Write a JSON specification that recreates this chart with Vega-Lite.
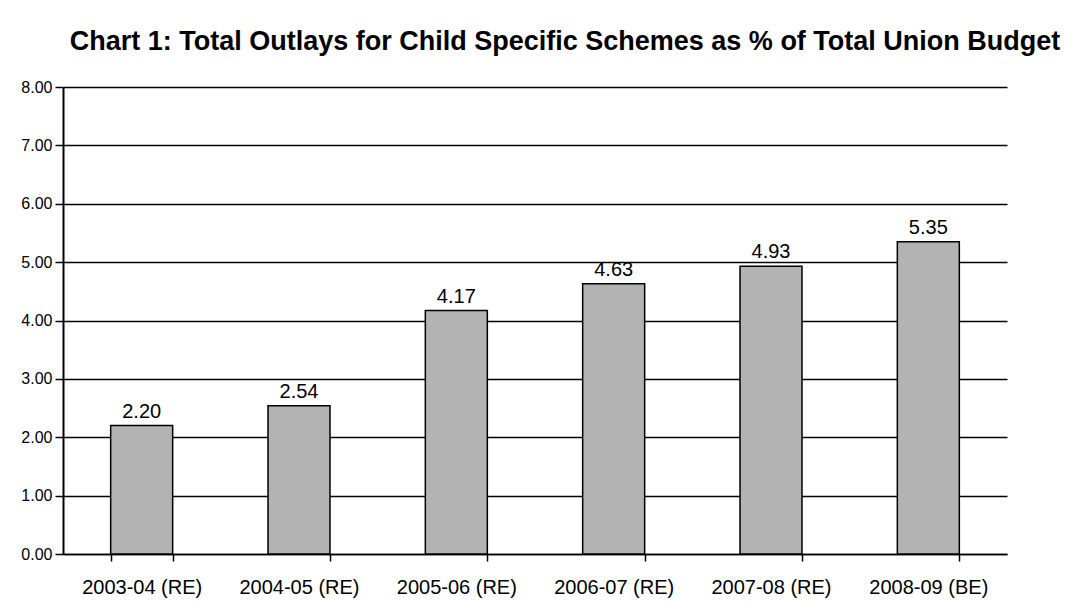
{
  "$schema": "https://vega.github.io/schema/vega-lite/v6.json",
  "autosize": {"type": "none"},
  "padding": {"left": 63, "top": 87, "right": 73, "bottom": 47},
  "width": 944,
  "height": 467,
  "background": "white",
  "title": {
    "text": "Chart 1: Total Outlays for Child Specific Schemes as % of Total Union Budget",
    "font": "Liberation Sans",
    "fontSize": 27,
    "fontWeight": "bold",
    "color": "black",
    "anchor": "middle",
    "frame": "group",
    "baseline": "alphabetic",
    "offset": 2,
    "dx": 30
  },
  "data": {
    "values": [
      {"year": "2003-04 (RE)", "value": 2.20},
      {"year": "2004-05 (RE)", "value": 2.54},
      {"year": "2005-06 (RE)", "value": 4.17},
      {"year": "2006-07 (RE)", "value": 4.63},
      {"year": "2007-08 (RE)", "value": 4.93},
      {"year": "2008-09 (BE)", "value": 5.35}
    ]
  },
  "encoding": {
    "x": {
      "field": "year",
      "type": "nominal",
      "sort": null,
      "title": null,
      "scale": {"paddingInner": 0.606, "paddingOuter": 0.303},
      "axis": {
        "labelAngle": 0,
        "labelFont": "Liberation Sans",
        "labelFontSize": 20,
        "labelColor": "black",
        "labelPadding": 16,
        "tickBand": "extent",
        "tickSize": 7,
        "tickColor": "black",
        "tickWidth": 1.5,
        "domainColor": "black",
        "domainWidth": 1.5,
        "grid": false
      }
    },
    "y": {
      "field": "value",
      "type": "quantitative",
      "title": null,
      "scale": {"domain": [0, 8]},
      "axis": {
        "values": [0, 1, 2, 3, 4, 5, 6, 7, 8],
        "format": ".2f",
        "grid": true
      }
    }
  },
  "layer": [
    {
      "mark": {"type": "bar", "fill": "#b3b3b3", "stroke": "black", "strokeWidth": 1.5}
    },
    {
      "mark": {"type": "text", "baseline": "alphabetic", "dy": -8, "font": "Liberation Sans", "fontSize": 20, "color": "black"},
      "encoding": {"text": {"field": "value", "type": "quantitative", "format": ".2f"}}
    }
  ],
  "config": {
    "view": {"stroke": null},
    "axisY": {
      "labelFont": "Liberation Sans",
      "labelFontSize": 16,
      "labelColor": "black",
      "labelPadding": 3,
      "tickSize": 8,
      "tickColor": "black",
      "tickWidth": 1.5,
      "domainColor": "black",
      "domainWidth": 2,
      "gridColor": "black",
      "gridWidth": 1.5,
      "gridOpacity": 1
    }
  }
}
